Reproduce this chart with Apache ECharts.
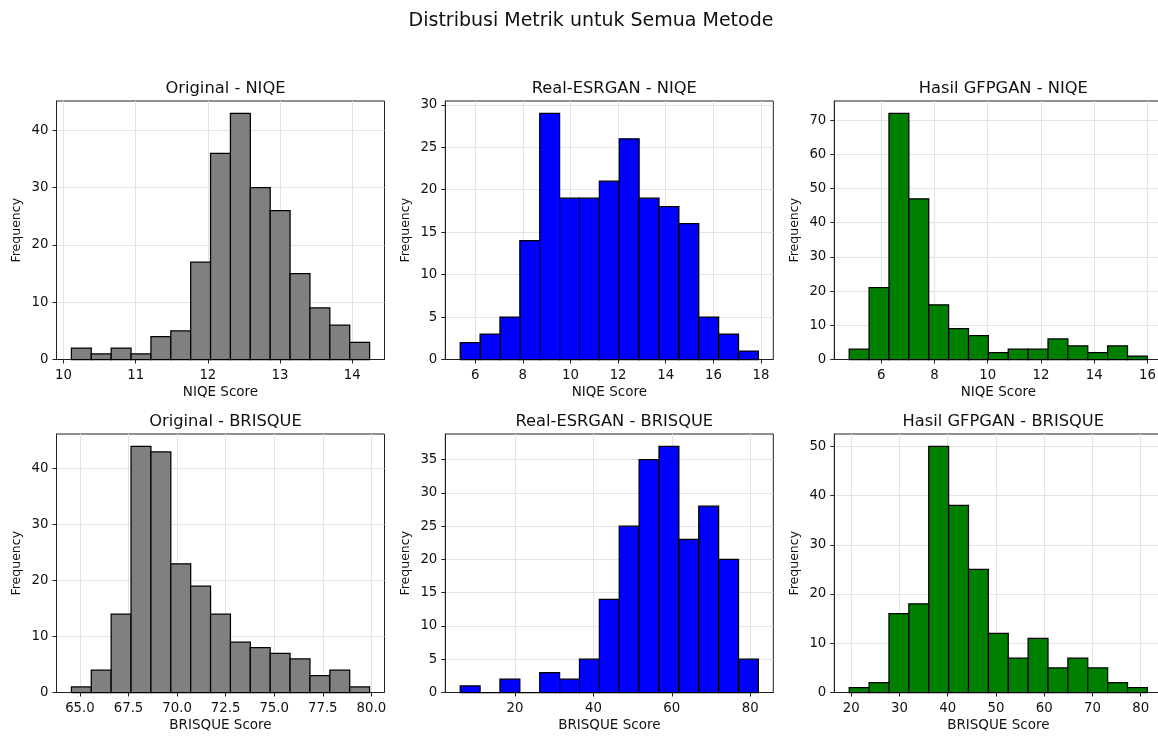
<!DOCTYPE html>
<html>
<head>
<meta charset="utf-8">
<script src="https://cdn.jsdelivr.net/npm/echarts@6/dist/echarts.min.js"></script>
<style>
html,body{margin:0;padding:0;background:#fff;}
#chart{width:1158px;height:736px;}
</style>
</head>
<body>
<div id="chart"></div>
<script>
// ---- Data ----
const mainTitle = "Distribusi Metrik untuk Semua Metode";
const panelTitles = ["Original - NIQE", "Real-ESRGAN - NIQE", "Hasil GFPGAN - NIQE",
                     "Original - BRISQUE", "Real-ESRGAN - BRISQUE", "Hasil GFPGAN - BRISQUE"];
const xAxisNames = ["NIQE Score", "NIQE Score", "NIQE Score",
                    "BRISQUE Score", "BRISQUE Score", "BRISQUE Score"];

// data range (first bin left edge, last bin right edge) for each histogram
const origNiqeRange   = [10.11, 14.24];
const esrganNiqeRange = [5.37, 17.89];
const gfpganNiqeRange = [4.80, 16.00];
const origBrisqueRange   = [64.56, 79.91];
const esrganBrisqueRange = [6.00, 82.10];
const gfpganBrisqueRange = [19.59, 81.38];

// bin counts (15 bins each)
const origNiqeCounts   = [2, 1, 2, 1, 4, 5, 17, 36, 43, 30, 26, 15, 9, 6, 3];
const esrganNiqeCounts = [2, 3, 5, 14, 29, 19, 19, 21, 26, 19, 18, 16, 5, 3, 1];
const gfpganNiqeCounts = [3, 21, 72, 47, 16, 9, 7, 2, 3, 3, 6, 4, 2, 4, 1];
const origBrisqueCounts   = [1, 4, 14, 44, 43, 23, 19, 14, 9, 8, 7, 6, 3, 4, 1];
const esrganBrisqueCounts = [1, 0, 2, 0, 3, 2, 5, 14, 25, 35, 37, 23, 28, 20, 5];
const gfpganBrisqueCounts = [1, 2, 16, 18, 50, 38, 25, 12, 7, 11, 5, 7, 5, 2, 1];

// tick labels
const origNiqeXTicks   = ["10", "11", "12", "13", "14"];
const esrganNiqeXTicks = ["6", "8", "10", "12", "14", "16", "18"];
const gfpganNiqeXTicks = ["6", "8", "10", "12", "14", "16"];
const origBrisqueXTicks   = ["65.0", "67.5", "70.0", "72.5", "75.0", "77.5", "80.0"];
const esrganBrisqueXTicks = ["20", "40", "60", "80"];
const gfpganBrisqueXTicks = ["20", "30", "40", "50", "60", "70", "80"];

const origNiqeYTicks   = ["0", "10", "20", "30", "40"];
const esrganNiqeYTicks = ["0", "5", "10", "15", "20", "25", "30"];
const gfpganNiqeYTicks = ["0", "10", "20", "30", "40", "50", "60", "70"];
const origBrisqueYTicks   = ["0", "10", "20", "30", "40"];
const esrganBrisqueYTicks = ["0", "5", "10", "15", "20", "25", "30", "35"];
const gfpganBrisqueYTicks = ["0", "10", "20", "30", "40", "50"];

const colors = ["#808080", "#0000ff", "#008000", "#808080", "#0000ff", "#008000"];

// ---- Build chart ----
const ranges = [origNiqeRange, esrganNiqeRange, gfpganNiqeRange, origBrisqueRange, esrganBrisqueRange, gfpganBrisqueRange];
const counts = [origNiqeCounts, esrganNiqeCounts, gfpganNiqeCounts, origBrisqueCounts, esrganBrisqueCounts, gfpganBrisqueCounts];
const xTicks = [origNiqeXTicks, esrganNiqeXTicks, gfpganNiqeXTicks, origBrisqueXTicks, esrganBrisqueXTicks, gfpganBrisqueXTicks];
const yTicks = [origNiqeYTicks, esrganNiqeYTicks, gfpganNiqeYTicks, origBrisqueYTicks, esrganBrisqueYTicks, gfpganBrisqueYTicks];

const colLeft = [56.5, 445.3, 834.3];
const gridW = 328;
const rowTop = [101, 434];
const gridH = 258.5;
const FONT = "DejaVu Sans";
const TXT = "#111";

const grids = [], xAxes = [], yAxes = [], series = [], titles = [];
titles.push({
  text: mainTitle, left: 586, top: 7, textAlign: 'center',
  textStyle: {fontFamily: FONT, fontSize: 19, fontWeight: 'normal', color: TXT}
});

for (let i = 0; i < 6; i++) {
  const r = Math.floor(i / 3), c = i % 3;
  const left = colLeft[c], top = rowTop[r];
  grids.push({left: left, top: top, width: gridW, height: gridH, show: true,
              borderColor: '#222', borderWidth: 1, backgroundColor: 'transparent',
              containLabel: false, outerBoundsMode: 'none'});
  titles.push({
    text: panelTitles[i], left: left + gridW / 2, top: top - 25, textAlign: 'center',
    textStyle: {fontFamily: FONT, fontSize: 16.3, fontWeight: 'normal', color: TXT}
  });
  const [lo, hi] = ranges[i];
  const span = hi - lo;
  const n = counts[i].length;
  const w = span / n;
  const data = counts[i].map((v, k) => [lo + k * w, lo + (k + 1) * w, v]);
  const maxC = Math.max(...counts[i]);
  const xt = xTicks[i].map(Number);
  const yt = yTicks[i].map(Number);
  const xLab = {}; xTicks[i].forEach(s => { xLab[Number(s)] = s; });
  xAxes.push({
    type: 'value', gridIndex: i, min: lo - 0.05 * span, max: hi + 0.05 * span,
    name: xAxisNames[i], nameLocation: 'middle', nameGap: 26, nameMoveOverlap: false,
    nameTextStyle: {fontFamily: FONT, fontSize: 13.5, color: TXT},
    axisLine: {show: true, onZero: false, lineStyle: {color: '#222', width: 1}},
    axisTick: {show: true, length: 4, inside: false, customValues: xt, lineStyle: {color: '#222', width: 1}},
    axisLabel: {show: true, margin: 10, customValues: xt, fontFamily: FONT, fontSize: 13.3, color: TXT,
                formatter: v => (xLab[v] !== undefined ? xLab[v] : String(v))},
    splitLine: {show: true, lineStyle: {color: '#e3e3e3', width: 1}}
  });
  yAxes.push({
    type: 'value', gridIndex: i, min: 0, max: maxC * 1.05,
    name: 'Frequency', nameLocation: 'middle', nameGap: 33, nameMoveOverlap: false,
    nameTextStyle: {fontFamily: FONT, fontSize: 12.5, color: TXT},
    axisLine: {show: true, lineStyle: {color: '#222', width: 1}},
    axisTick: {show: true, length: 4, inside: false, customValues: yt, lineStyle: {color: '#222', width: 1}},
    axisLabel: {show: true, margin: 8, customValues: yt, fontFamily: FONT, fontSize: 13.3, color: TXT},
    splitLine: {show: true, lineStyle: {color: '#e3e3e3', width: 1}}
  });
  const fill = colors[i];
  series.push({
    type: 'custom', xAxisIndex: i, yAxisIndex: i, data: data,
    encode: {x: [0, 1], y: 2},
    renderItem: function (params, api) {
      const p0 = api.coord([api.value(0), api.value(2)]);
      const p1 = api.coord([api.value(1), 0]);
      return {
        type: 'rect',
        shape: {x: p0[0], y: p0[1], width: p1[0] - p0[0], height: p1[1] - p0[1]},
        style: {fill: fill, stroke: '#000', lineWidth: 1.25}
      };
    }
  });
}

const chart = echarts.init(document.getElementById('chart'), null, {renderer: 'canvas'});
chart.setOption({
  animation: false,
  backgroundColor: '#fff',
  title: titles,
  grid: grids,
  xAxis: xAxes,
  yAxis: yAxes,
  series: series
});
</script>
</body>
</html>
